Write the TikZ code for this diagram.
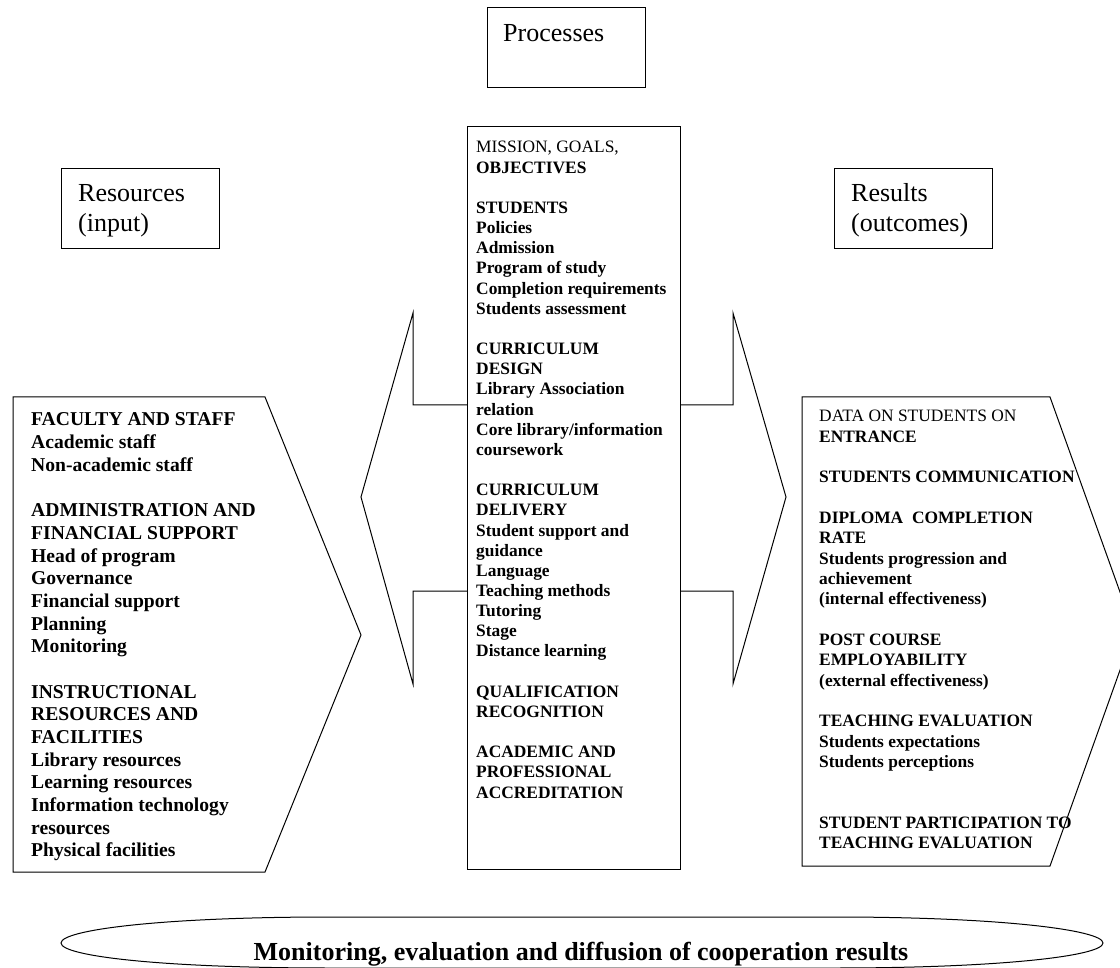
\documentclass[tikz,border=0pt]{standalone}
\usepackage{fontspec}
\usepackage{array}
\setmainfont{Liberation Serif}
\begin{document}
\begin{tikzpicture}[x=1pt,y=-1pt,
  outline/.style={draw=black, line width=1pt, fill=white, line join=miter},
  txt/.style={anchor=base west, inner sep=0pt},
  title/.style={txt, font=\fontsize{26}{30}\selectfont}]
\useasboundingbox (0,0) rectangle (1120,968);

% double-headed arrow behind the central column
\draw[outline] (413,405) -- (413,313) -- (361,497) -- (413,684) -- (413,591)
  -- (733,591) -- (733,684) -- (786,497) -- (733,313) -- (733,405) -- cycle;
% central column
\draw[outline] (467,127) rectangle (680,869);
% left and right pentagons
\draw[outline] (13,397) -- (265,397) -- (361,635) -- (265,872) -- (13,872) -- cycle;
\draw[outline] (802,397) -- (1050,397) -- (1134,631) -- (1050,866) -- (802,866) -- cycle;
% header boxes
\draw[outline] (487,8) rectangle (645,88);
\draw[outline] (61,169) rectangle (219,249);
\draw[outline] (834,169) rectangle (992,249);
% bottom flattened ellipse
\draw[line width=1pt] (330,917) -- (835,917) .. controls (1000,917) and (1103,930) .. (1103,943)
  .. controls (1103,956) and (1000,968) .. (835,968) -- (330,968)
  .. controls (160,968) and (61,956) .. (61,943)
  .. controls (61,930) and (160,917) .. (330,917) -- cycle;

% titles
\node[title] (processes) at (503,42) {Processes};
\node[title] (resources) at (78,202) {\begin{tabular}[t]{@{}l@{}}Resources\\(input)\end{tabular}};
\node[title] (results) at (851,202) {\begin{tabular}[t]{@{}l@{}}Results\\(outcomes)\end{tabular}};

% central text
\node[txt, font=\fontsize{17.4}{20.16}\selectfont] (central) at (476,153) {%
\begin{tabular}[t]{@{}>{\bfseries}l@{}}
\mdseries MISSION, GOALS,\\
OBJECTIVES\\
\\
STUDENTS\\
Policies\\
Admission\\
Program of study\\
Completion requirements\\
Students assessment\\
\\
CURRICULUM\\
DESIGN\\
Library Association\\
relation\\
Core library/information\\
coursework\\
\\
CURRICULUM\\
DELIVERY\\
Student support and\\
guidance\\
Language\\
Teaching methods\\
Tutoring\\
Stage\\
Distance learning\\
\\
QUALIFICATION\\
RECOGNITION\\
\\
ACADEMIC AND\\
PROFESSIONAL\\
ACCREDITATION
\end{tabular}};

% left text
\node[txt, font=\fontsize{19.6}{22.68}\selectfont] (input) at (31,426) {%
\begin{tabular}[t]{@{}>{\bfseries}l@{}}
FACULTY AND STAFF\\
Academic staff\\
Non-academic staff\\
\\
ADMINISTRATION AND\\
FINANCIAL SUPPORT\\
Head of program\\
Governance\\
Financial support\\
Planning\\
Monitoring\\
\\
INSTRUCTIONAL\\
RESOURCES AND\\
FACILITIES\\
Library resources\\
Learning resources\\
Information technology\\
resources\\
Physical facilities
\end{tabular}};

% right text
\node[txt, font=\fontsize{17.4}{20.33}\selectfont] (outcomes) at (819,422) {%
\begin{tabular}[t]{@{}>{\bfseries}l@{}}
\mdseries DATA ON STUDENTS ON\\
ENTRANCE\\
\\
STUDENTS COMMUNICATION\\
\\
DIPLOMA\ \ COMPLETION\\
RATE\\
Students progression and\\
achievement\\
(internal effectiveness)\\
\\
POST COURSE\\
EMPLOYABILITY\\
(external effectiveness)\\
\\
TEACHING EVALUATION\\
Students expectations\\
Students perceptions\\
\\
\\
STUDENT PARTICIPATION TO\\
TEACHING EVALUATION
\end{tabular}};

% bottom text
\node[anchor=base, inner sep=0pt, font=\fontsize{26}{30}\selectfont\bfseries] (monitor) at (581,960)
  {Monitoring, evaluation and diffusion of cooperation results};
\end{tikzpicture}
\end{document}
